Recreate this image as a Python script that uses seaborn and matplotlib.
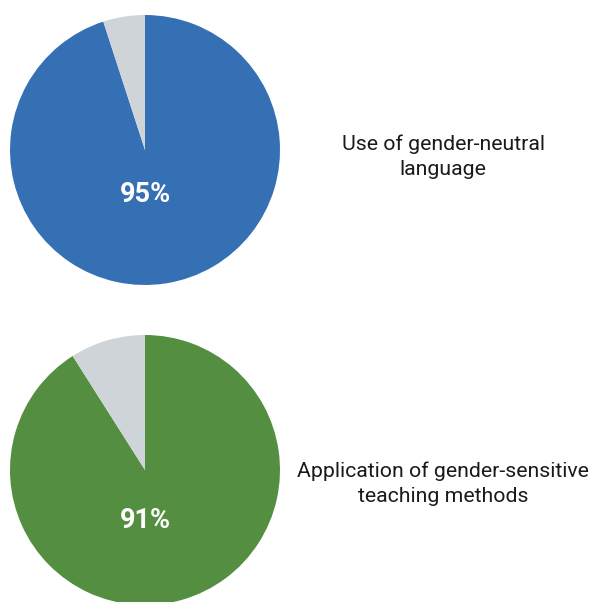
import matplotlib
matplotlib.use("Agg")
import matplotlib.pyplot as plt
import seaborn as sns

categories = ["Use of gender-neutral\nlanguage", "Application of gender-sensitive\nteaching methods"]
values = [95, 91]
pct_labels = ["95%", "91%"]

sns.set_theme(style="white")
plt.rcParams['font.family'] = ['Roboto', 'DejaVu Sans']

main_colors = ["#3570B5", "#548F41"]
rest_color = "#CFD4D8"

W, H = 592, 602
fig = plt.figure(figsize=(W / 100, H / 100), dpi=100)
ax = fig.add_axes([0, 0, 1, 1])

centers_y = [H - 150, H - 470]
label_y = [H - 194, H - 520]
text_y = [H - 157, H - 484]
R = 135
for i, v in enumerate(values):
    ax.pie([v, 100 - v], colors=[main_colors[i], rest_color], startangle=90,
           counterclock=False, center=(145, centers_y[i]), radius=R,
           wedgeprops=dict(linewidth=0))
    ax.text(145, label_y[i], pct_labels[i], color="white", fontsize=19.5,
            fontweight="bold", ha="center", va="center")
    ax.text(443, text_y[i], categories[i], color="#1a1a1a", fontsize=15.3,
            ha="center", va="center", linespacing=1.42)

ax.set_xlim(0, W)
ax.set_ylim(0, H)
ax.set_aspect("equal")
ax.axis("off")
fig.savefig("out.png", dpi=100, facecolor="white")
